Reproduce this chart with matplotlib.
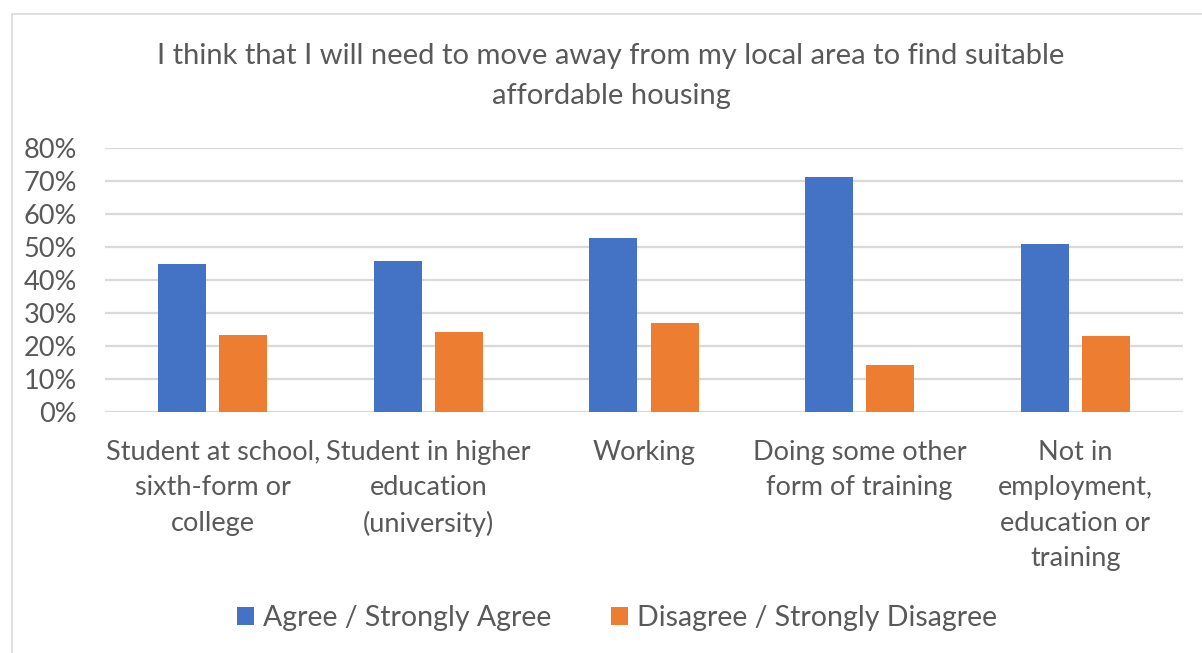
import matplotlib.pyplot as plt
import numpy as np
from matplotlib.patches import Rectangle
from matplotlib.ticker import PercentFormatter

plt.rcParams['font.family'] = ['Lato', 'DejaVu Sans']

categories = [
    "Student at school,\nsixth-form or\ncollege",
    "Student in higher\neducation\n(university)",
    "Working",
    "Doing some other\nform of training",
    "Not in\nemployment,\neducation or\ntraining",
]
agree = [0.450, 0.458, 0.526, 0.713, 0.510]
disagree = [0.234, 0.241, 0.271, 0.141, 0.231]
series_names = ["Agree / Strongly Agree", "Disagree / Strongly Disagree"]
yticks = [0, 0.1, 0.2, 0.3, 0.4, 0.5, 0.6, 0.7, 0.8]

text_color = '#595959'
grid_color = '#D9D9D9'

fig = plt.figure(figsize=(12.02, 6.53), dpi=100)
fig.patches.append(Rectangle((12 / 1202, -0.1), 1.2, 1 - 14 / 653 + 0.1,
                             transform=fig.transFigure, fill=False,
                             edgecolor=grid_color, linewidth=1.2))

ax = fig.add_axes([105 / 1202, 1 - 412 / 653, (1183 - 105) / 1202, (412 - 148) / 653])
x = np.arange(len(categories))
w = 0.223
b1 = ax.bar(x - 0.142, agree, w, color='#4472C4', label=series_names[0], zorder=3)
b2 = ax.bar(x + 0.142, disagree, w, color='#ED7D31', label=series_names[1], zorder=3)

ax.set_xlim(-0.5, len(categories) - 0.5)
ax.set_ylim(0, 0.8)
ax.set_yticks(yticks)
ax.yaxis.set_major_formatter(PercentFormatter(1.0, decimals=0))
ax.grid(axis='y', color=grid_color, linewidth=1.6, zorder=0)
ax.set_xticks(x)
ax.set_xticklabels(categories, linespacing=1.52)
ax.tick_params(axis='both', length=0, colors=text_color)
ax.tick_params(axis='x', pad=20, labelsize=19.5)
ax.tick_params(axis='y', pad=20, labelsize=19.5)
for s in ax.spines.values():
    s.set_visible(False)

fig.text(611 / 1202, 1 - 76 / 653,
         "I think that I will need to move away from my local area to find suitable\naffordable housing",
         ha='center', va='center', fontsize=21, color=text_color, linespacing=1.62)

fig.legend(handles=[b1, b2], loc='center', bbox_to_anchor=(617 / 1202, 1 - 618 / 653),
           ncol=2, frameon=False, fontsize=20.5, labelcolor=text_color,
           handlelength=0.6, handleheight=0.6, handletextpad=0.3, columnspacing=2.1)

fig.savefig('out.png', dpi=100)
